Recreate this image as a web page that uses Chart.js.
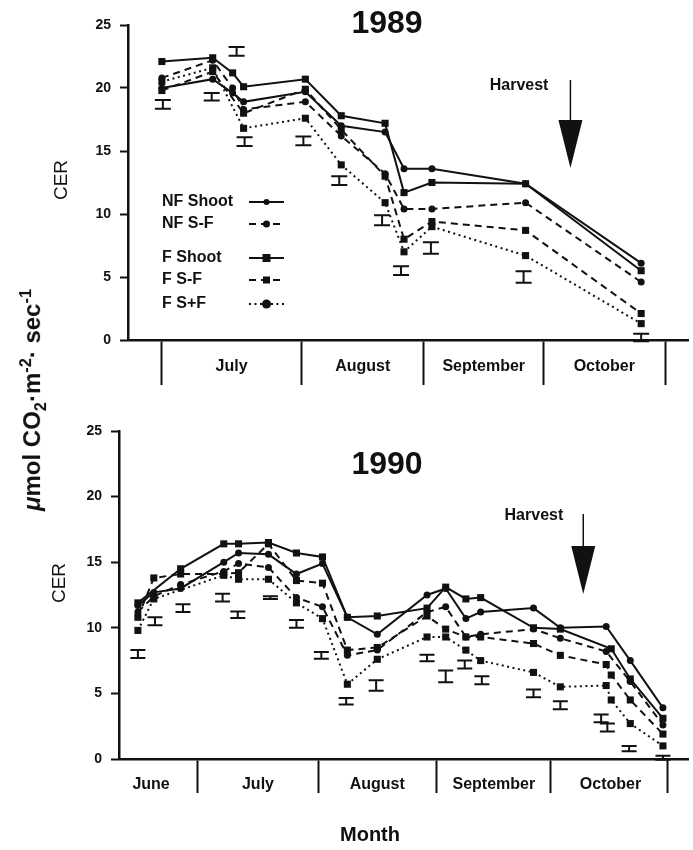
<!DOCTYPE html>
<html><head><meta charset="utf-8">
<script src="https://cdn.jsdelivr.net/npm/chart.js@4.4.1/dist/chart.umd.min.js"></script>
<style>
html,body{margin:0;padding:0;background:#fff;}
#wrap{position:relative;width:693px;height:850px;overflow:hidden;background:#fff;}
canvas{position:absolute;left:0;}
#ylab{position:absolute;left:33px;top:400px;transform:translate(-50%,-50%) rotate(-90deg);white-space:nowrap;font:bold 24px "Liberation Sans",Arial,sans-serif;color:#111;}
#ylab sub,#ylab sup{font-size:68%;}
</style></head><body>
<div id="wrap">
<canvas id="c89" width="693" height="410" style="top:0"></canvas>
<canvas id="c90" width="693" height="440" style="top:410px"></canvas>
<div id="ylab"><i>μ</i>mol CO<sub>2</sub>·m<sup>-2</sup>· sec<sup>-1</sup></div>
</div>
<script>
// ================= DATA =================
// Series order: NF Shoot, NF S-F, F Shoot, F S-F, F S+F
const seriesNames = ['NF Shoot', 'NF S-F', 'F Shoot', 'F S-F', 'F S+F'];

// ---- 1989 ---- (x = position along season axis, days from 1 July as drawn)
const months89 = ['July', 'August', 'September', 'October'];
const monthEdges89 = [0, 35, 65.75, 95.75, 126.25];
const monthLabelAt89 = [17.5, 50.4, 80.75, 111];
const day89 = [0, 12.75, 17.75, 20.5, 36, 45, 56, 60.75, 67.75, 91.25, 120.25];
const nfShoot89 = [20.0, 20.7, 19.6, 18.9, 19.7, 17.0, 16.5, 13.6, 13.6, 12.4, 6.1];
const nfSF89    = [20.8, 22.2, 20.0, 18.3, 18.9, 16.2, 13.2, 10.4, 10.4, 10.9, 4.6];
const fShoot89  = [22.1, 22.4, 21.2, 20.1, 20.7, 17.8, 17.2, 11.7, 12.5, 12.4, 5.5];
const fSF89     = [19.8, 21.3, null, 18.0, 19.9, 16.7, 13.0, 8.0, 9.4, 8.7, 2.1];
const fSpF89    = [20.5, 21.6, null, 16.8, 17.6, 13.9, 10.9, 7.0, 9.0, 6.7, 1.3];
const errDay89  = [0.25, 12.5, 18.75, 20.75, 35.5, 44.5, 55.25, 60, 67.5, 90.75, 120.25];
const errMid89  = [18.7, 19.3, 22.9, 15.75, 15.8, 12.65, 9.5, 5.5, 7.3, 5.0, 0.2];
const errHalf89 = [0.35, 0.3, 0.35, 0.35, 0.35, 0.35, 0.4, 0.35, 0.45, 0.45, 0.3];
const harvest89 = {x: 102.5, top: 20.63, base: 17.46, tip: 13.65, textY: 20.16};

// ---- 1990 ---- (x = position along season axis, days from 1 July as drawn)
const months90 = ['June', 'July', 'August', 'September', 'October'];
const monthEdges90 = [0, 31, 61.5, 90.8, 120.8];
const monthLabelAt90 = [-12, 15.5, 46.2, 76.2, 106.2];
const day90 = [-15.4, -11.3, -4.4, 6.7, 10.5, 18.2, 25.4, 32.1, 38.5, 46.2, 59.0, 63.8, 69.0, 72.8, 86.4, 93.3, 105.1, 106.4, 111.3, 119.7];
const nfShoot90 = [11.7, 12.7, 13.0, 15.0, 15.7, 15.6, 14.1, 14.9, 10.8, 9.5, 12.5, 13.0, 10.7, 11.2, 11.5, 10.0, 10.1, null, 7.5, 3.9];
const nfSF90    = [11.2, 12.4, 13.3, 14.3, 14.9, 14.6, 12.3, 11.6, 7.9, 8.3, 11.2, 11.6, 9.3, 9.5, 9.9, 9.2, 8.2, null, 5.9, 2.6];
const fShoot90  = [11.9, null, 14.5, 16.4, 16.4, 16.5, 15.7, 15.4, 10.8, 10.9, 11.5, 13.1, 12.2, 12.3, 10.0, 9.9, null, 8.4, 6.1, 3.1];
const fSF90     = [10.8, 13.8, 14.1, 14.1, 14.2, 16.4, 13.6, 13.4, 8.3, 8.5, 10.9, 9.9, 9.3, 9.3, 8.8, 7.9, 7.2, 6.4, 4.5, 1.9];
const fSpF90    = [9.8, 12.2, null, 14.0, 13.7, 13.7, 11.9, 10.7, 5.7, 7.6, 9.3, 9.3, 8.3, 7.5, 6.6, 5.5, 5.6, 4.5, 2.7, 1.0];
const errDay90  = [-15.4, -11.0, -3.8, 6.4, 10.3, 18.7, 25.4, 31.8, 38.2, 45.9, 59.0, 63.8, 68.7, 73.1, 86.4, 93.3, 103.8, 105.4, 111.0, 119.7];
const errMid90  = [8.0, 10.5, 11.5, 12.3, 11.0, 12.3, 10.3, 7.9, 4.4, 5.6, 7.7, 6.3, 7.2, 6.0, 5.0, 4.1, 3.1, 2.4, 0.8, 0.1];
const errHalf90 = [0.3, 0.3, 0.3, 0.3, 0.25, 0.1, 0.3, 0.25, 0.25, 0.4, 0.25, 0.45, 0.3, 0.3, 0.3, 0.3, 0.3, 0.3, 0.2, 0.15];
const harvest90 = {x: 99.2, top: 18.67, base: 16.23, tip: 12.58, textY: 18.52};

// ================= STYLE =================
const FONT = '"Liberation Sans", Arial, Helvetica, sans-serif';
const INK = '#111';
const STY = [
  {dash: [], pt: 'circle', r: 3.5, lr: 3},
  {dash: [7, 5], pt: 'circle', r: 3.5, lr: 3.5},
  {dash: [], pt: 'rect', r: 5, lr: 4},
  {dash: [7, 5], pt: 'rect', r: 5, lr: 3.5},
  {dash: [2, 3.5], pt: 'rect', r: 5, lr: 4.5}
];

function makeDecor(o) {
  return {
    id: 'decor',
    afterDatasetsDraw(chart) {
      const ctx = chart.ctx, xs = chart.scales.x, ys = chart.scales.y;
      ctx.save();
      ctx.strokeStyle = INK; ctx.fillStyle = INK; ctx.setLineDash([]);
      // error bars
      ctx.lineWidth = 2;
      o.errX.forEach((xv, i) => {
        const px = xs.getPixelForValue(xv);
        const t = ys.getPixelForValue(o.errY[i] + o.errH[i]);
        const b = ys.getPixelForValue(o.errY[i] - o.errH[i]);
        const w = o.capW / 2;
        ctx.beginPath();
        ctx.moveTo(px, t); ctx.lineTo(px, b);
        ctx.moveTo(px - w, t); ctx.lineTo(px + w, t);
        ctx.moveTo(px - w, b); ctx.lineTo(px + w, b);
        ctx.stroke();
      });
      // harvest arrow
      const h = o.harvest;
      const hx = xs.getPixelForValue(h.x);
      const y0 = ys.getPixelForValue(h.top), yb = ys.getPixelForValue(h.base), yt = ys.getPixelForValue(h.tip);
      ctx.lineWidth = 1.5;
      ctx.beginPath(); ctx.moveTo(hx, y0); ctx.lineTo(hx, yb); ctx.stroke();
      ctx.beginPath(); ctx.moveTo(hx - 12, yb); ctx.lineTo(hx + 12, yb); ctx.lineTo(hx, yt); ctx.closePath(); ctx.fill();
      ctx.font = 'bold 16px ' + FONT; ctx.textAlign = 'right'; ctx.textBaseline = 'middle';
      ctx.fillText('Harvest', hx - o.hTextGap, ys.getPixelForValue(h.textY));
      // title
      ctx.font = 'bold 32px ' + FONT; ctx.textAlign = 'center'; ctx.textBaseline = 'middle';
      ctx.fillText(o.title, o.titleX, o.titleY);
      // CER
      ctx.save(); ctx.translate(o.cerX, o.cerY); ctx.rotate(-Math.PI / 2);
      ctx.font = '19px ' + FONT; ctx.textAlign = 'center'; ctx.textBaseline = 'middle';
      ctx.fillText('CER', 0, 0); ctx.restore();
      // legend
      if (o.legend) {
        const L = o.legend;
        L.y.forEach((ly, i) => {
          const s = STY[i];
          ctx.font = 'bold 16px ' + FONT; ctx.textAlign = 'left'; ctx.textBaseline = 'middle';
          ctx.fillText(seriesNames[i], L.textX, ly);
          ctx.lineWidth = 2; ctx.setLineDash(s.dash);
          ctx.beginPath(); ctx.moveTo(L.x1, ly); ctx.lineTo(L.x2, ly); ctx.stroke();
          ctx.setLineDash([]);
          const mx = (L.x1 + L.x2) / 2;
          ctx.beginPath();
          if (s.pt === 'circle' || i === 4) ctx.arc(mx, ly, s.lr, 0, Math.PI * 2);
          else ctx.rect(mx - s.lr, ly - s.lr, s.lr * 2, s.lr * 2);
          ctx.fill();
        });
      }
      if (o.xTitle) {
        ctx.font = 'bold 20px ' + FONT; ctx.textAlign = 'center'; ctx.textBaseline = 'middle';
        ctx.fillText(o.xTitle, o.xTitleX, o.xTitleY);
      }
      ctx.restore();
    }
  };
}

function build(id, o) {
  const datasets = o.series.map((vals, i) => {
    const s = STY[i];
    return {
      label: seriesNames[i],
      data: o.days.map((d, j) => ({x: d, y: vals[j]})).filter(p => p.y !== null),
      borderColor: INK, backgroundColor: INK, borderWidth: 2, borderDash: s.dash,
      pointStyle: s.pt, pointRadius: s.r, pointBackgroundColor: INK, pointBorderColor: INK,
      pointBorderWidth: 0, tension: 0, fill: false, spanGaps: true
    };
  });
  const nE = o.edges.length;
  return new Chart(document.getElementById(id), {
    type: 'line',
    data: {datasets},
    options: {
      responsive: false, animation: false, events: [], devicePixelRatio: 1,
      layout: {padding: {top: o.padTop, right: 3, left: 0, bottom: 0}},
      plugins: {legend: {display: false}, tooltip: {enabled: false}, title: {display: false}},
      scales: {
        x: {
          type: 'linear', min: o.xMin, max: o.xMax, offset: false,
          afterBuildTicks: sc => { sc.ticks = o.edges.map(v => ({value: v})).concat(o.labelAt.map(v => ({value: v}))); },
          afterFit: sc => { sc.height = o.xH; },
          grid: {display: true, drawOnChartArea: false, drawTicks: true, tickLength: o.tickLen, tickWidth: 2,
                 color: 'rgba(0,0,0,0)', tickColor: c => (c.index < nE ? INK : 'rgba(0,0,0,0)')},
          border: {display: true, color: INK, width: 2.5},
          ticks: {autoSkip: false, maxRotation: 0, minRotation: 0, padding: o.labPad, color: INK,
                  font: {family: FONT, size: 16, weight: 'bold'},
                  callback: (v, i) => (i >= nE ? o.months[i - nE] : '')}
        },
        y: {
          min: 0, max: 25,
          afterFit: sc => { sc.width = o.yW; },
          ticks: {stepSize: 5, padding: 9, color: INK, font: {family: FONT, size: 14, weight: 'bold'}},
          grid: {display: true, drawOnChartArea: false, tickLength: 8, tickWidth: 2, tickColor: INK, color: 'rgba(0,0,0,0)'},
          border: {display: true, color: INK, width: 2.5}
        }
      }
    },
    plugins: [makeDecor(o)]
  });
}

build('c89', {
  days: day89, series: [nfShoot89, nfSF89, fShoot89, fSF89, fSpF89],
  edges: monthEdges89, labelAt: monthLabelAt89, months: months89,
  xMin: -8.5, xMax: 132, padTop: 25, xH: 70, yW: 128, tickLen: 45, labPad: -28,
  errX: errDay89, errY: errMid89, errH: errHalf89, capW: 16,
  harvest: harvest89, hTextGap: 22,
  title: '1989', titleX: 387, titleY: 24, cerX: 62, cerY: 180,
  legend: {textX: 162, x1: 249, x2: 284, y: [202, 224, 258, 280, 304]}
});

build('c90', {
  days: day90, series: [nfShoot90, nfSF90, fShoot90, fSF90, fSpF90],
  edges: monthEdges90, labelAt: monthLabelAt90, months: months90,
  xMin: -20.26, xMax: 126.15, padTop: 21, xH: 91, yW: 119, tickLen: 34, labPad: -18,
  errX: errDay90, errY: errMid90, errH: errHalf90, capW: 15,
  harvest: harvest90, hTextGap: 20,
  title: '1990', titleX: 387, titleY: 55, cerX: 60, cerY: 173,
  xTitle: 'Month', xTitleX: 370, xTitleY: 425
});
</script>
</body></html>
